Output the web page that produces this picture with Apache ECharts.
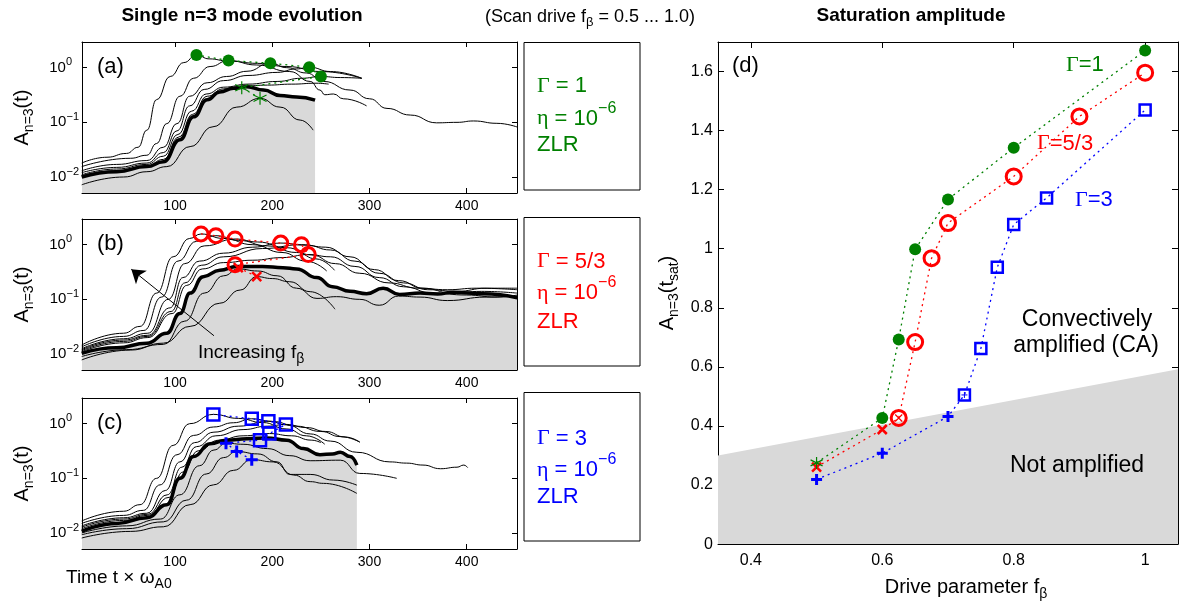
<!DOCTYPE html>
<html>
<head>
<meta charset="utf-8">
<script src="https://cdn.jsdelivr.net/npm/echarts@6.0.0/dist/echarts.min.js"></script>
<style>
  html, body { margin: 0; padding: 0; background: #fff; }
  #chart { width: 1179px; height: 606px; }
</style>
</head>
<body>
<div id="chart"></div>
<script>
// 字体与颜色
const FONT = 'Liberation Sans, Arial, Helvetica, sans-serif';
const SERIF = 'Liberation Serif, Times New Roman, serif';
const GREEN = '#008000';
const RED = '#ff0000';
const BLUE = '#0000ff';

// ---------- 面板 (a)：Γ = 1，[t, A] ----------
const aCurve1 = [[4,0.018],[30,0.023],[50,0.027],[62,0.035],[71,0.072],[81,0.26],[95,0.69],[109,1.24],[122,1.71],[135,1.45],[155,1.32],[185,1.2],[215,1.05],[250,0.85],[292,0.64]];
const aCurve2 = [[4,0.0155],[54,0.022],[71,0.025],[81,0.041],[91.5,0.095],[105,0.3],[119,0.64],[136,1.05],[155,1.35],[184,1.12],[218,0.85],[239,0.56],[249,0.39],[254,0.32],[263,0.33],[273,0.27],[297,0.2]];
const aCurve3 = [[4,0.013],[40,0.017],[71,0.02],[88,0.035],[102,0.095],[115,0.3],[133,0.53],[153,0.69],[174,0.86],[198,1.21],[215,1.0],[235,0.8],[253,0.56],[280,0.39],[300,0.27],[318,0.18],[342,0.136],[369,0.098],[390,0.1],[407,0.106],[431,0.096],[452,0.082]];
const aCurve4 = [[4,0.012],[40,0.015],[71,0.018],[88,0.028],[102,0.07],[115,0.2],[130,0.4],[150,0.58],[175,0.72],[205,0.82],[225,0.95],[238,1.02],[260,0.85],[292,0.64]];
const aCurve5 = [[4,0.011],[40,0.014],[71,0.017],[88,0.024],[103,0.06],[117,0.16],[132,0.33],[150,0.44],[175,0.5],[205,0.56],[230,0.64],[250,0.69],[270,0.66],[292,0.64]];
const aCurve6 = [[4,0.0105],[40,0.013],[71,0.016],[88,0.021],[104,0.054],[118,0.14],[133,0.3],[150,0.41],[170,0.46],[195,0.48],[220,0.5],[245,0.52],[258,0.5]];
const aCurve7 = [[4,0.0072],[47,0.01],[71,0.0125],[91.5,0.0155],[115.5,0.036],[139,0.083],[163.5,0.19],[187.4,0.275],[208,0.19],[228.7,0.11],[242,0.072]];
const aThick = [[4,0.01],[40,0.0125],[71,0.0155],[88,0.019],[105,0.048],[119,0.126],[133,0.26],[146,0.36],[160,0.42],[174,0.45],[191,0.39],[208,0.31],[225,0.29],[244,0.255]];
const aStar = [[187.4,0.275],[168.6,0.43]];
const aDot = [[250,0.69],[238,1.02],[198,1.21],[155,1.35],[122,1.71]];

// ---------- 面板 (b)：Γ = 5/3 ----------
const bCurve1 = [[4,0.0146],[47,0.024],[64,0.032],[81,0.13],[98,0.6],[115,1.3],[126.7,1.57],[150,1.3],[180,1.0],[210,0.72],[235,0.5],[256,0.33]];
const bCurve2 = [[4,0.0135],[47,0.021],[68,0.027],[86,0.11],[103,0.5],[122,1.15],[142,1.46],[165,1.2],[195,0.95],[225,0.72],[245,0.55],[264,0.34]];
const bCurve3 = [[4,0.0125],[47,0.019],[72,0.024],[93,0.1],[110,0.45],[130,0.95],[161.7,1.27],[185,1.12],[215,0.88],[240,0.65],[265,0.45],[290,0.3],[320,0.2],[350,0.16],[380,0.15],[410,0.16],[452,0.15]];
const bCurve4 = [[4,0.012],[47,0.018],[72,0.022],[95,0.07],[108,0.25],[125,0.5],[150,0.7],[180,0.9],[208.7,1.07],[235,0.98],[260,0.8],[285,0.5],[310,0.3],[335,0.2],[360,0.15],[390,0.14],[420,0.16],[452,0.16]];
const bCurve5 = [[4,0.0115],[47,0.017],[72,0.021],[96,0.06],[110,0.2],[127,0.42],[150,0.6],[190,0.85],[230,1.0],[255,0.9],[280,0.6],[305,0.35],[330,0.22],[355,0.16],[385,0.13],[415,0.14],[452,0.13]];
const bCurve6 = [[4,0.011],[47,0.016],[72,0.02],[97,0.055],[112,0.18],[128,0.36],[150,0.47],[180,0.52],[210,0.58],[237,0.66],[260,0.6],[285,0.4],[310,0.25],[335,0.17],[365,0.13],[400,0.12],[430,0.11],[452,0.12]];
const bCurve7 = [[4,0.009],[50,0.012],[88,0.015],[110,0.04],[130,0.13],[150,0.27],[165,0.36],[185,0.33],[205,0.27],[225,0.16],[246,0.104],[266,0.112],[290,0.1],[310,0.078],[330,0.115],[352,0.11],[380,0.095],[420,0.11],[452,0.115]];
const bCurve8 = [[4,0.0078],[54,0.0118],[88,0.0158],[115.5,0.032],[146,0.085],[167,0.148],[184,0.26],[200,0.24],[218,0.21],[239,0.138],[264.5,0.066]];
const bThick = [[4,0.0103],[40,0.013],[71,0.0158],[91.5,0.024],[105,0.055],[115.5,0.13],[129,0.26],[146,0.34],[163.5,0.4],[190,0.4],[211,0.38],[225,0.36],[245.7,0.25],[262,0.17],[280,0.14],[297,0.127],[314,0.16],[331,0.123],[352,0.13],[370,0.125],[386,0.135],[417,0.126],[452,0.107]];
const bCross = [[184,0.26],[165,0.38]];
const bCircle = [[161.7,0.43],[237,0.66],[230,1.0],[208.7,1.07],[161.7,1.27],[142,1.46],[126.7,1.57]];
const bArrow = [[140,0.0216],[55,0.355]];

// ---------- 面板 (c)：Γ = 3 ----------
const cCurve1 = [[4,0.0166],[47,0.025],[64,0.033],[81,0.1],[98,0.4],[115,1.0],[139.4,1.48],[165,1.25],[190,1.05],[215,0.8],[235,0.6],[254,0.42]];
const cCurve2 = [[4,0.015],[47,0.021],[67.5,0.026],[84.6,0.076],[102,0.27],[119,0.61],[139.5,0.87],[160,1.04],[178.9,1.23],[200,1.1],[225,0.9],[250,0.72],[270,0.58],[290,0.46]];
const cCurve3 = [[4,0.0135],[47,0.019],[71,0.023],[90,0.06],[105,0.2],[120,0.45],[140,0.7],[165,0.9],[196,1.11],[215,0.95],[239,0.65],[260,0.48],[287,0.3],[321,0.2],[338,0.19],[355,0.175],[373,0.15],[390,0.16],[397,0.175],[401,0.157]];
const cCurve4 = [[4,0.0128],[47,0.018],[72,0.022],[92,0.05],[107,0.16],[122,0.38],[142,0.6],[170,0.78],[195,0.9],[214,0.97],[235,0.85],[255,0.72],[275,0.57],[290,0.46]];
const cCurve5 = [[4,0.012],[47,0.017],[72,0.021],[94,0.045],[108,0.13],[124,0.32],[145,0.5],[170,0.6],[197,0.66],[220,0.6],[240,0.5],[250,0.45]];
const cCurve6 = [[4,0.01],[50,0.0135],[85,0.018],[105,0.05],[125,0.17],[140,0.33],[152.4,0.44],[170,0.42],[195,0.35],[218,0.26],[239,0.21],[270,0.215],[290,0.123],[328,0.1]];
const cCurve7 = [[4,0.0093],[50,0.012],[88,0.016],[112,0.04],[132,0.12],[150,0.24],[163.4,0.31],[185,0.28],[205,0.2],[218,0.118],[239,0.118],[263,0.093],[287,0.075]];
const cCurve8 = [[4,0.0081],[54,0.0107],[88,0.013],[115.5,0.033],[139.5,0.076],[160,0.14],[178.9,0.22],[201,0.2],[222,0.115],[239,0.087],[252.6,0.081],[287,0.053]];
const cThick = [[4,0.0107],[40,0.015],[71,0.019],[91.5,0.033],[105,0.1],[119,0.25],[136,0.43],[153,0.5],[174,0.53],[194,0.55],[215,0.5],[232,0.35],[249,0.27],[262,0.28],[270,0.3],[280,0.25],[287,0.175]];
const cPlus = [[178.9,0.22],[163.4,0.31],[152.4,0.44]];
const cSquare = [[187.4,0.5],[197,0.66],[214,0.97],[196,1.11],[178.9,1.23],[139.4,1.48]];

// ---------- 面板 (d)：饱和幅值 [f_beta, A] ----------
const dGreenStar = [[0.5,0.275]];
const dGreenDot = [[0.6,0.427],[0.625,0.693],[0.65,0.998],[0.7,1.167],[0.8,1.342],[1.0,1.671]];
const dRedCross = [[0.5,0.261],[0.6,0.388]];
const dRedCircle = [[0.625,0.427],[0.65,0.684],[0.675,0.968],[0.7,1.087],[0.8,1.245],[0.9,1.448],[1.0,1.596]];
const dBluePlus = [[0.5,0.219],[0.6,0.308],[0.7,0.432]];
const dBlueSquare = [[0.725,0.505],[0.75,0.662],[0.775,0.937],[0.8,1.082],[0.85,1.172],[1.0,1.47]];
const dBoundary = [[0.35,0.3],[1.05,0.592]];
const dDriveTicks = [0.4, 0.6, 0.8, 1];

// 符号路径
const STAR = 'path://M0,-10L0,10M-8.66,-5L8.66,5M-8.66,5L8.66,-5';
const CROSS = 'path://M-5,-5L5,5M-5,5L5,-5';
const PLUS = 'path://M0,-5L0,5M-5,0L5,0';

// 时间轴（左侧三个面板）
const timeAxis = (gi, pos) => ({
  type: 'value', gridIndex: gi, position: pos, min: 4.3, max: 451.7,
  axisLine: { onZero: false, lineStyle: { color: '#000', width: 1 } },
  axisTick: { inside: true, length: 5, lineStyle: { color: '#000' } },
  axisLabel: {
    show: pos === 'bottom', color: '#000', fontSize: 14, fontFamily: FONT, margin: 6,
    showMinLabel: false, showMaxLabel: false,
    formatter: (v) => (v % 100 === 0 ? String(v) : ''),
  },
  splitLine: { show: false },
});

// 对数幅值轴
const ampAxis = (gi, pos) => ({
  type: 'log', logBase: 10, gridIndex: gi, position: pos, min: 0.0051, max: 2.95,
  name: pos === 'left' ? 'A{s|n=3}(t)' : '',
  nameLocation: 'middle', nameGap: 46,
  nameTextStyle: {
    color: '#000', fontSize: 20, fontFamily: FONT, lineHeight: 28,
    rich: { s: { fontSize: 14, fontFamily: FONT, color: '#000', verticalAlign: 'bottom', lineHeight: 14 } },
  },
  axisLine: { onZero: false, lineStyle: { color: '#000', width: 1 } },
  axisTick: { inside: true, length: 5, lineStyle: { color: '#000' } },
  axisLabel: {
    show: pos === 'left', color: '#000', fontSize: 15, fontFamily: FONT, margin: 3, lineHeight: 22,
    showMinLabel: false, showMaxLabel: false,
    formatter: (v) => {
      const e = Math.log10(v);
      const r = Math.round(e);
      if (Math.abs(e - r) > 1e-6) return '';
      return r < 0 ? '10{e|\u2212' + -r + '}' : '10{p|' + r + '}';
    },
    rich: {
      e: { fontSize: 11, fontFamily: FONT, color: '#000', verticalAlign: 'top', lineHeight: 11 },
      p: { fontSize: 11, fontFamily: FONT, color: '#000', verticalAlign: 'top', lineHeight: 11, padding: [0, 7, 0, 0] },
    },
  },
  splitLine: { show: false },
});

// 驱动参数轴
const driveAxis = (pos) => ({
  type: 'value', gridIndex: 3, position: pos, min: 0.35, max: 1.05,
  name: pos === 'bottom' ? 'Drive parameter f{s|\u03b2}' : '',
  nameLocation: 'middle', nameGap: 23,
  nameTextStyle: {
    color: '#000', fontSize: 20, fontFamily: FONT, lineHeight: 28, padding: [0, 0, 0, 36],
    rich: { s: { fontSize: 14, fontFamily: FONT, color: '#000', verticalAlign: 'bottom', lineHeight: 14 } },
  },
  axisLine: { onZero: false, lineStyle: { color: '#000', width: 1 } },
  axisTick: { inside: true, length: 6, customValues: dDriveTicks, lineStyle: { color: '#000' } },
  axisLabel: {
    show: pos === 'bottom', color: '#000', fontSize: 16, fontFamily: FONT, margin: 8,
    customValues: dDriveTicks,
  },
  splitLine: { show: false },
});

const satAxis = (pos) => ({
  type: 'value', gridIndex: 3, position: pos, min: 0, max: 1.7, interval: 0.2,
  name: pos === 'left' ? 'A{s|n=3}(t{s|sat})' : '',
  nameLocation: 'middle', nameGap: 37,
  nameTextStyle: {
    color: '#000', fontSize: 20, fontFamily: FONT, lineHeight: 28,
    rich: { s: { fontSize: 14, fontFamily: FONT, color: '#000', verticalAlign: 'bottom', lineHeight: 14 } },
  },
  axisLine: { onZero: false, lineStyle: { color: '#000', width: 1 } },
  axisTick: { inside: true, length: 6, lineStyle: { color: '#000' } },
  axisLabel: {
    show: pos === 'left', color: '#000', fontSize: 16, fontFamily: FONT, margin: 5,
    showMaxLabel: false,
  },
  splitLine: { show: false },
});

// 系列构造
const thin = (gi, data) => ({
  type: 'line', xAxisIndex: 2 * gi, yAxisIndex: 2 * gi, data, symbol: 'none',
  smooth: 0.5, smoothMonotone: 'x', silent: true, z: 2,
  lineStyle: { color: '#000', width: 1 },
});
const thick = (gi, data, extra) => Object.assign({
  type: 'line', xAxisIndex: 2 * gi, yAxisIndex: 2 * gi, data, symbol: 'none',
  smooth: 0.5, smoothMonotone: 'x', silent: true, z: 3,
  lineStyle: { color: '#000', width: 3.5 },
}, extra || {});
const shade = (gi, data) => ({
  type: 'line', xAxisIndex: 2 * gi, yAxisIndex: 2 * gi, data, symbol: 'none',
  smooth: 0.5, smoothMonotone: 'x', silent: true, z: 1,
  lineStyle: { width: 0 },
  areaStyle: { color: '#d9d9d9', opacity: 1, origin: 'start' },
});
const dotted = (axis, data, color) => ({
  type: 'line', xAxisIndex: axis, yAxisIndex: axis, data, symbol: 'none', silent: true, z: 4,
  lineStyle: { color, width: 1.3, type: [2, 4] },
});
const marks = (axis, data, symbol, size, color, filled, bw) => ({
  type: 'scatter', xAxisIndex: axis, yAxisIndex: axis, data, symbol, symbolSize: size, silent: true, z: 5,
  itemStyle: {
    color: filled ? color : 'rgba(0,0,0,0)',
    borderColor: color, borderWidth: filled ? 0 : bw, opacity: 1,
  },
});

// 文字
const txt = (x, y, text, size, color, extra) => ({
  type: 'text', x, y, z: 100, silent: true,
  style: Object.assign({
    text, fill: color || '#000', fontSize: size, fontFamily: FONT,
    align: 'left', verticalAlign: 'middle', textAlign: 'left', textVerticalAlign: 'middle',
  }, extra || {}),
});
const serifRich = (size, color) => ({
  g: { fontFamily: SERIF, fontSize: size, fill: color, color },
  e: { fontFamily: FONT, fontSize: 16, fill: color, color, verticalAlign: 'top', lineHeight: 16 },
  s: { fontFamily: FONT, fontSize: 14, fill: color, color, verticalAlign: 'bottom', lineHeight: 14 },
});
const sideBox = (top, h, gamma, color, ys) => [
  { type: 'rect', z: 100, silent: true, shape: { x: 524, y: top, width: 116, height: h }, style: { fill: '#fff', stroke: '#000', lineWidth: 1 } },
  txt(537, ys[0], '{g|\u0393} = ' + gamma, 22, color, { rich: serifRich(22, color) }),
  txt(537, ys[1], '{g|\u03b7} = 10{e|\u22126}', 22, color, { lineHeight: 36, rich: serifRich(22, color) }),
  txt(537, ys[2], 'ZLR', 22, color),
];

const option = {
  animation: false,
  backgroundColor: '#fff',
  textStyle: { fontFamily: FONT },
  grid: [
    { left: 82, top: 42, width: 435, height: 151 },
    { left: 82, top: 219, width: 435, height: 151 },
    { left: 82, top: 398, width: 435, height: 151 },
    { left: 718, top: 42, width: 460, height: 506 },
  ],
  xAxis: [
    timeAxis(0, 'bottom'), timeAxis(0, 'top'),
    timeAxis(1, 'bottom'), timeAxis(1, 'top'),
    timeAxis(2, 'bottom'), timeAxis(2, 'top'),
    driveAxis('bottom'), driveAxis('top'),
  ],
  yAxis: [
    ampAxis(0, 'left'), ampAxis(0, 'right'),
    ampAxis(1, 'left'), ampAxis(1, 'right'),
    ampAxis(2, 'left'), ampAxis(2, 'right'),
    satAxis('left'), satAxis('right'),
  ],
  series: [
    // (a)
    shade(0, aThick),
    ...[aCurve1, aCurve2, aCurve3, aCurve4, aCurve5, aCurve6, aCurve7].map((d) => thin(0, d)),
    thick(0, aThick),
    dotted(0, aStar.concat(aDot), GREEN),
    marks(0, aDot, 'circle', 12, GREEN, true),
    marks(0, aStar, STAR, 13, GREEN, false, 1.2),
    // (b)
    shade(1, bThick),
    ...[bCurve1, bCurve2, bCurve3, bCurve4, bCurve5, bCurve6, bCurve7, bCurve8].map((d) => thin(1, d)),
    thick(1, bThick, {
      markLine: {
        silent: true, symbol: ['none', 'arrow'], symbolSize: 13, label: { show: false },
        itemStyle: { color: '#000' },
        lineStyle: { color: '#000', width: 1, type: 'solid' },
        data: [[{ coord: bArrow[0] }, { coord: bArrow[1] }]],
      },
    }),
    dotted(2, bCross.concat(bCircle), RED),
    marks(2, bCircle, 'circle', 14, RED, false, 3),
    marks(2, bCross, CROSS, 9, RED, false, 2.5),
    // (c)
    shade(2, cThick),
    ...[cCurve1, cCurve2, cCurve3, cCurve4, cCurve5, cCurve6, cCurve7, cCurve8].map((d) => thin(2, d)),
    thick(2, cThick),
    dotted(4, cPlus.concat(cSquare), BLUE),
    marks(4, cSquare, 'rect', 12, BLUE, false, 2.5),
    marks(4, cPlus, PLUS, 12, BLUE, false, 3),
    // (d)
    {
      type: 'line', xAxisIndex: 6, yAxisIndex: 6, data: dBoundary, symbol: 'none', silent: true, z: 1,
      lineStyle: { width: 0 }, areaStyle: { color: '#d9d9d9', opacity: 1, origin: 'start' },
    },
    dotted(6, dGreenStar.concat(dGreenDot), GREEN),
    dotted(6, dRedCross.concat(dRedCircle), RED),
    dotted(6, dBluePlus.concat(dBlueSquare), BLUE),
    marks(6, dGreenDot, 'circle', 12, GREEN, true),
    marks(6, dRedCircle, 'circle', 15, RED, false, 3),
    marks(6, [dRedCircle[0]], CROSS, 7, RED, false, 1.2),
    marks(6, dBlueSquare, 'rect', 11, BLUE, false, 2.5),
    marks(6, [dBlueSquare[0]], PLUS, 6, BLUE, false, 1),
    marks(6, dBluePlus, PLUS, 11, BLUE, false, 3),
    marks(6, dRedCross, CROSS, 9, RED, false, 2.5),
    marks(6, dGreenStar, STAR, 12, GREEN, false, 1.2),
  ],
  graphic: {
    elements: [
      // 标题
      txt(242, 16, 'Single n=3 mode evolution', 19, '#000', { fontWeight: 'bold', align: 'center', textAlign: 'center' }),
      txt(590, 17, '(Scan drive f{s|\u03b2} = 0.5 ... 1.0)', 18, '#000', {
        align: 'center', textAlign: 'center', lineHeight: 24,
        rich: { s: { fontFamily: FONT, fontSize: 13, fill: '#000', verticalAlign: 'bottom', lineHeight: 13 } },
      }),
      txt(911, 16, 'Saturation amplitude', 19, '#000', { fontWeight: 'bold', align: 'center', textAlign: 'center' }),
      // 面板编号
      txt(97, 67, '(a)', 22),
      txt(97, 244, '(b)', 22),
      txt(97, 423, '(c)', 22),
      txt(732, 66, '(d)', 22),
      // 右侧参数框
      ...sideBox(42.5, 147.5, '1', GREEN, [85.8, 118.5, 144.7]),
      ...sideBox(217.5, 148.5, '5/3', RED, [261.5, 293, 321.5]),
      ...sideBox(392.5, 148.5, '3', BLUE, [438.5, 470, 496.5]),
      // 注释
      txt(198, 353, 'Increasing f{s|\u03b2}', 19, '#000', { lineHeight: 26, rich: serifRich(19, '#000') }),
      txt(66, 578, 'Time t \u00d7 \u03c9{s|A0}', 19, '#000', { lineHeight: 26, rich: serifRich(19, '#000') }),
      txt(1066, 65, '{g|\u0393}=1', 22, GREEN, { rich: serifRich(22, GREEN) }),
      txt(1037, 143.5, '{g|\u0393}=5/3', 22, RED, { rich: serifRich(22, RED) }),
      txt(1075, 200, '{g|\u0393}=3', 22, BLUE, { rich: serifRich(22, BLUE) }),
      txt(1087, 320, 'Convectively', 23, '#000', { align: 'center', textAlign: 'center' }),
      txt(1086, 346, 'amplified (CA)', 23, '#000', { align: 'center', textAlign: 'center' }),
      txt(1077, 466, 'Not amplified', 23, '#000', { align: 'center', textAlign: 'center' }),
    ],
  },
};

const chart = echarts.init(document.getElementById('chart'), null, { renderer: 'canvas' });
chart.setOption(option);
window.addEventListener('resize', () => chart.resize());
</script>
</body>
</html>
